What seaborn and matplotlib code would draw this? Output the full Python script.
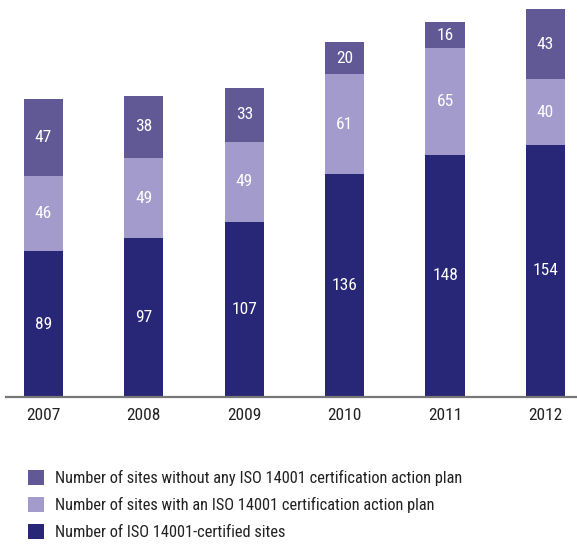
import matplotlib
matplotlib.use("Agg")
import matplotlib.pyplot as plt
from matplotlib import font_manager
from matplotlib.patches import Patch
import seaborn as sns
import pandas as pd

years = ["2007", "2008", "2009", "2010", "2011", "2012"]
certified = [89, 97, 107, 136, 148, 154]
with_plan = [46, 49, 49, 61, 65, 40]
without_plan = [47, 38, 33, 20, 16, 43]

labels = [
    "Number of sites without any ISO 14001 certification action plan",
    "Number of sites with an ISO 14001 certification action plan",
    "Number of ISO 14001-certified sites",
]
c_dark = "#282676"
c_light = "#a29bcb"
c_mid = "#615896"
c_text = "#222222"

sns.set_style("white")

# prefer an upright narrow/condensed face for the DIN-like look
def pick_narrow(target=400):
    upright = [f for f in font_manager.fontManager.ttflist
               if f.style == "normal"
               and "italic" not in f.fname.lower()
               and "oblique" not in f.fname.lower()]

    def wdist(f):
        try:
            return abs(int(f.weight) - target)
        except (TypeError, ValueError):
            return 999

    for pref in ["Roboto Condensed", "Liberation Sans Narrow", "Open Sans Condensed",
                 "DejaVu Sans Condensed", "Noto Sans Condensed"]:
        cands = [f for f in upright if f.name == pref]
        if cands:
            return min(cands, key=wdist)
    cands = [f for f in upright
             if ("condensed" in f.fname.lower() or "narrow" in f.fname.lower())]
    if cands:
        return min(cands, key=wdist)
    return None

narrow = pick_narrow()
if narrow is not None:
    fp = font_manager.FontProperties(fname=narrow.fname)
else:
    fp = font_manager.FontProperties(family="DejaVu Sans", stretch="condensed")

def fprop(size):
    p = fp.copy()
    p.set_size(size)
    return p

df = pd.DataFrame({"year": years, "certified": certified,
                   "with_plan": with_plan, "without_plan": without_plan})
df["base2"] = df["certified"]
df["base3"] = df["certified"] + df["with_plan"]

fig = plt.figure(figsize=(5.77, 5.46), dpi=100)
ax = fig.add_axes([6 / 577, 149 / 546, 571 / 577, 397 / 546])

w = 0.39
sns.barplot(data=df, x="year", y="certified", order=years, color=c_dark,
            width=w, saturation=1, ax=ax, linewidth=0)
sns.barplot(data=df, x="year", y="with_plan", order=years, color=c_light,
            width=w, saturation=1, ax=ax, linewidth=0, bottom=df["base2"])
sns.barplot(data=df, x="year", y="without_plan", order=years, color=c_mid,
            width=w, saturation=1, ax=ax, linewidth=0, bottom=df["base3"])

for i in range(len(years)):
    segs = [(0, certified[i]), (certified[i], with_plan[i]),
            (certified[i] + with_plan[i], without_plan[i])]
    for b, v in segs:
        ax.text(i, b + v / 2, str(v), ha="center", va="center",
                color="white", fontproperties=fprop(12.5))

ax.set_xlim(-0.373, 5.314)
ax.set_ylim(0, 242.5)
ax.set_xlabel("")
ax.set_ylabel("")
ax.set_yticks([])
ax.tick_params(axis="x", length=0, pad=8)
for lab in ax.get_xticklabels():
    lab.set_fontproperties(fprop(12.5))
    lab.set_color(c_text)
for s in ["top", "right", "left"]:
    ax.spines[s].set_visible(False)
ax.spines["bottom"].set_color("#777777")
ax.spines["bottom"].set_linewidth(1.6)

handles = [Patch(facecolor=c, edgecolor="none") for c in (c_mid, c_light, c_dark)]
leg = fig.legend(handles, labels, loc="upper left",
                 bbox_to_anchor=(28 / 577, 1 - 470 / 546),
                 frameon=False, prop=fprop(11.8), handlelength=0.98, handleheight=0.98,
                 handletextpad=0.67, labelspacing=0.68, borderaxespad=0, borderpad=0,
                 labelcolor=c_text)

fig.savefig("out.png", dpi=100)
